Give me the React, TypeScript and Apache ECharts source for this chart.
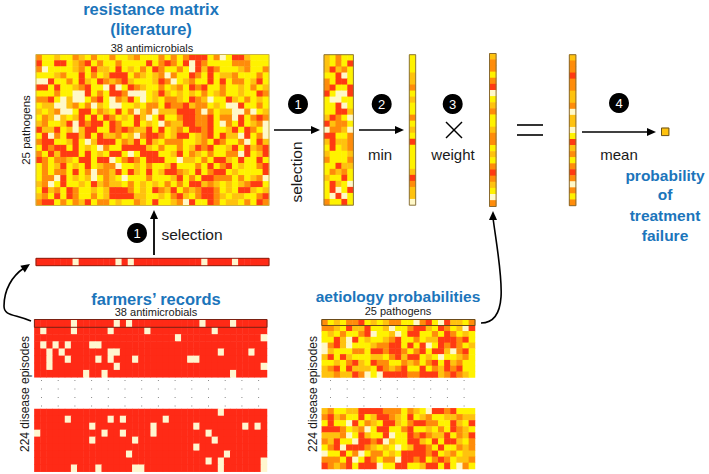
import React, { useEffect, useRef } from "react";
import * as echarts from "echarts";

const palette = ["#FFF8C8", "#FFF200", "#FFC20E", "#FF8C0A", "#FF3A12"];
const RED = "#FF2A16";
const PALE = "#FFF6CF";

const resistance = [
  "3112113213 1131123111 3131344413 01442111",
  "4114412341 3113111141 3431404311 11333111",
  "3011112314 2214121314 3113104243 11123113",
  "1112311413 1244413212 3031143141 22311131",
  "0041131421 4323421112 4301231141 41331241",
  "4414112341 1040143211 3123143411 31121312",
  "1113110041 3144300012 4212121312 31121143",
  "3341020013 4103241012 1332143201 14213121",
  "1220023130 2100112133 1433423312 10041131",
  "2123001441 3214130230 2224443031 22003012",
  "1320212414 1431214201 4113443341 33041343",
  "2311240434 4143114121 0322443341 03141230",
  "4224120244 1143432241 4123144341 12414310",
  "1403144241 4223120344 3124412341 42204130",
  "3441124102 4441324142 1333112314 31130142",
  "1434414121 0311444421 3113124341 12414234",
  "3142444141 2144101444 1124132131 13304124",
  "4313321441 4401343144 4110221314 42141141",
  "1312412141 2330112131 1241113141 34121134",
  "1313314130 3324142141 2443214134 41211114",
  "1330412120 1321011131 1124131443 33131230",
  "2301411214 2322131212 1313144232 12123441",
  "1423143112 1244431214 3241323443 12144212",
  "2314143113 1244442211 2134213443 21221134",
  "3441313241 3312113214 1123041143 12213143",
];
const selectedColumns = [
  "21311", "21314", "24231", "11401", "31441", "34114", "41004", "10011", "11401", "11442",
  "24310", "42331", "03320", "44113", "24223", "14123", "21112", "31113", "11422", "13231",
  "21141", "14210", "14014", "10401", "31141",
];
const minimum = "1112231211".concat("3121411112", "43220", "02323").split("").slice(0, 25);
const weight = "2331340123".concat("1123312134", "32103").split("");
const product = "2334332230".concat("2201423134", "30313").split("");
const meanValue = ["2"];

const farmersTop = [6, 13, 15, 27, 32];
const farmersA = [
  [1, 6, 12, 18, 29],
  [23, 37],
  [1, 3, 5, 9, 10],
  [2, 4, 12, 13, 30, 35],
  [2, 5, 10, 12, 16, 25, 26],
  [2, 13, 37],
  [8, 11, 32],
];
const farmersB = [
  [30],
  [5, 12, 14, 21],
  [9, 19, 26, 34, 36],
  [0, 11, 14, 19, 28],
  [9, 16, 29],
  [26],
  [15, 31],
  [28, 30, 37],
  [6, 10, 16, 17, 30, 37],
];

const aetiologyTop = ["3121334121 2331103410 42213"];
const aetiologyA = [
  "3321422411 2011344214 31204",
  "1213113401 1201441131 43121",
  "1142041211 2341131224 44341",
  "0342011123 3441414014 34312",
  "0211133144 3443134144 20341",
  "2414211122 1342441210 11231",
  "1121342143 3113231341 42311",
  "2341422214 3234114132 43411",
  "2232243010 4444334442 34321",
];
const aetiologyB = [
  "2311224444 3331321044 34111",
  "3423114124 4321412311 22322",
  "1411041321 4421344331 14214",
  "4443123014 4113411213 14321",
  "2223014211 4011434322 41324",
  "3241104434 0211442141 44213",
  "1340444321 2101244314 11323",
  "0114130133 1214444341 23122",
  "3331401431 3304434134 31223",
  "4323414440 1144112441 41031",
];

const toRows = (rows: string[]) => rows.map((r) => r.replace(/ /g, "").split("").map(Number));
const binaryRows = (rows: number[][], n: number) =>
  rows.map((on) => Array.from({ length: n }, (_, i) => (on.includes(i) ? 5 : 6)));
const colours = [...palette, PALE, RED];

type Panel = { x: number; y: number; w: number; h: number; rows: number[][]; outline?: string; lw?: number };

const panels: Panel[] = [
  { x: 36, y: 54.5, w: 233, h: 151, rows: toRows(resistance), outline: "#C9B24A", lw: 1 },
  { x: 324, y: 54.7, w: 29.4, h: 150.5, rows: toRows(selectedColumns), outline: "#8A7440", lw: 1 },
  { x: 409.3, y: 54.7, w: 6.4, h: 150.5, rows: minimum.map((v) => [Number(v)]), outline: "#8A7440", lw: 1 },
  { x: 489.5, y: 53.5, w: 6.6, h: 153, rows: weight.map((v) => [Number(v)]), outline: "#8A6A30", lw: 1 },
  { x: 569.3, y: 54.7, w: 6.6, h: 151, rows: product.map((v) => [Number(v)]), outline: "#8A6A30", lw: 1 },
  { x: 661.5, y: 128, w: 7.4, h: 7.6, rows: [meanValue.map(Number)], outline: "#6B5320", lw: 1 },
  { x: 36, y: 258.3, w: 233, h: 7.4, rows: binaryRows([farmersTop], 38), outline: "#8A2010", lw: 1 },
  { x: 34.4, y: 319.5, w: 232.6, h: 7.8, rows: binaryRows([farmersTop], 38), outline: "#7A2012", lw: 1 },
  { x: 34.4, y: 327.3, w: 232.6, h: 50, rows: binaryRows(farmersA, 38) },
  { x: 34.4, y: 409, w: 232.6, h: 62.7, rows: binaryRows(farmersB, 38) },
  { x: 321.8, y: 319.5, w: 153.2, h: 6, rows: toRows(aetiologyTop), outline: "#6B4A18", lw: 1 },
  { x: 321.8, y: 325.5, w: 153.2, h: 52, rows: toRows(aetiologyA) },
  { x: 321.8, y: 408.3, w: 153.2, h: 60.7, rows: toRows(aetiologyB) },
];

const BLUE = "#1B75BB";
const label = (text: string, x: number, y: number, size: number, extra: any = {}) => ({
  type: "text",
  x,
  y,
  rotation: extra.rotation || 0,
  z: 20,
  style: {
    text,
    fill: extra.fill || "#1A1A1A",
    font: `${extra.bold ? "bold " : ""}${size}px "Liberation Sans", Arial, sans-serif`,
    align: "center",
    verticalAlign: "middle",
  },
});
const stroke = { stroke: "#000", lineWidth: 1.6, fill: "none" };
const line = (x1: number, y1: number, x2: number, y2: number, lw = 1.6) => ({
  type: "line",
  z: 20,
  shape: { x1, y1, x2, y2 },
  style: { stroke: "#000", lineWidth: lw },
});
const head = (x: number, y: number, angle: number, len = 9, half = 4) => {
  const c = Math.cos(angle), s = Math.sin(angle);
  return {
    type: "polygon",
    z: 21,
    shape: {
      points: [
        [x, y],
        [x - len * c - half * s, y - len * s + half * c],
        [x - len * c + half * s, y - len * s - half * c],
      ],
    },
    style: { fill: "#000" },
  };
};
const badge = (n: string, x: number, y: number) => [
  { type: "circle", z: 20, shape: { cx: x, cy: y, r: 10 }, style: { fill: "#000" } },
  {
    type: "text",
    x,
    y: y + 0.5,
    z: 21,
    style: {
      text: n,
      fill: "#fff",
      font: '13px "Liberation Sans", Arial, sans-serif',
      align: "center",
      verticalAlign: "middle",
    },
  },
];
const dots = (x0: number, n: number) => {
  const out: any[] = [];
  [380, 388.5, 397, 405.5].forEach((y) => {
    for (let i = 0; i < n; i++) {
      out.push({
        type: "rect",
        z: 5,
        shape: { x: x0 + i * 16.7, y, width: 1, height: 1 },
        style: { fill: "#8A8A8A" },
      });
    }
  });
  return out;
};

export default function App() {
  const ref = useRef<HTMLDivElement>(null);
  useEffect(() => {
    const chart = echarts.init(ref.current!, null, { renderer: "svg" });
    const grid: any[] = [], xAxis: any[] = [], yAxis: any[] = [], series: any[] = [];
    panels.forEach((p, i) => {
      const ncol = p.rows[0].length;
      grid.push({ left: p.x, top: p.y, width: p.w, height: p.h, containLabel: false });
      xAxis.push({
        type: "category", gridIndex: i, show: false,
        data: Array.from({ length: ncol }, (_, k) => String(k)),
      });
      yAxis.push({
        type: "category", gridIndex: i, show: false, inverse: true,
        data: p.rows.map((_, k) => String(k)),
      });
      const data: any[] = [];
      p.rows.forEach((row, r) => row.forEach((v, c) => data.push([c, r, v])));
      series.push({
        type: "heatmap", xAxisIndex: i, yAxisIndex: i, data, silent: true,
        itemStyle: { borderWidth: 0 }, emphasis: { disabled: true },
      });
    });
    const outlines = panels.filter((p) => p.outline).map((p) => ({
      type: "rect",
      z: 15,
      shape: { x: p.x, y: p.y, width: p.w, height: p.h },
      style: { fill: "none", stroke: p.outline, lineWidth: p.lw },
    }));
    const graphic = [
      ...outlines,
      ...dots(41, 14),
      ...dots(330, 9),
      label("resistance matrix", 151, 9, 16.5, { bold: true, fill: BLUE }),
      label("(literature)", 151, 29, 16.5, { bold: true, fill: BLUE }),
      label("38 antimicrobials", 152, 47.5, 11),
      label("25 pathogens", 26, 130, 11.5, { rotation: Math.PI / 2 }),
      label("selection", 192, 234, 15.5),
      label("selection", 296, 172, 15.5, { rotation: Math.PI / 2 }),
      label("min", 380, 154, 15),
      label("weight", 453, 154, 15),
      label("mean", 619, 154, 15),
      label("probability", 665, 175, 15.5, { bold: true, fill: BLUE }),
      label("of", 665, 194.5, 15.5, { bold: true, fill: BLUE }),
      label("treatment", 665, 215, 15.5, { bold: true, fill: BLUE }),
      label("failure", 665, 235, 15.5, { bold: true, fill: BLUE }),
      label("farmers\u2019 records", 156, 299, 16.5, { bold: true, fill: BLUE }),
      label("38 antimicrobials", 156, 312, 11),
      label("224 disease episodes", 25, 394, 12, { rotation: Math.PI / 2 }),
      label("aetiology probabilities", 398, 296, 15.5, { bold: true, fill: BLUE }),
      label("25 pathogens", 398, 310.5, 11),
      label("224 disease episodes", 312.5, 394, 12, { rotation: Math.PI / 2 }),
      ...badge("1", 137, 233),
      ...badge("1", 298, 104),
      ...badge("2", 381.7, 104),
      ...badge("3", 452.7, 104),
      ...badge("4", 619, 103),
      line(154, 255, 154, 218, 1.8),
      head(154, 210, -Math.PI / 2),
      line(274, 130, 312, 130),
      head(320, 130, 0),
      line(359, 130, 396, 130),
      head(404, 130, 0),
      line(446, 122, 462, 138, 1.5),
      line(462, 122, 446, 138, 1.5),
      line(517, 125, 543, 125, 1.6),
      line(517, 135, 543, 135, 1.6),
      line(582, 132, 648, 132),
      head(656, 132, 0),
      {
        type: "bezierCurve", z: 20,
        shape: { x1: 31, y1: 321, x2: 4, y2: 306, cpx1: 14, cpy1: 314, cpx2: 4, cpy2: 316 },
        style: stroke,
      },
      {
        type: "bezierCurve", z: 20,
        shape: { x1: 4, y1: 306, x2: 24, y2: 268, cpx1: 4, cpy1: 290, cpx2: 12, cpy2: 276 },
        style: stroke,
      },
      head(30, 264, -0.6),
      {
        type: "bezierCurve", z: 20,
        shape: { x1: 481, y1: 323, x2: 493, y2: 218, cpx1: 512, cpy1: 323, cpx2: 500, cpy2: 270 },
        style: stroke,
      },
      head(493, 211, -Math.PI / 2),
    ];
    chart.setOption({
      animation: false,
      backgroundColor: "#fff",
      tooltip: { show: false },
      visualMap: {
        type: "piecewise",
        show: false,
        dimension: 2,
        seriesIndex: panels.map((_, i) => i),
        pieces: colours.map((color, value) => ({ value, color })),
      },
      grid, xAxis, yAxis, series, graphic,
    });
    return () => chart.dispose();
  }, []);
  return <div ref={ref} style={{ position: "absolute", left: 0, top: 0, width: 709, height: 474 }} />;
}
